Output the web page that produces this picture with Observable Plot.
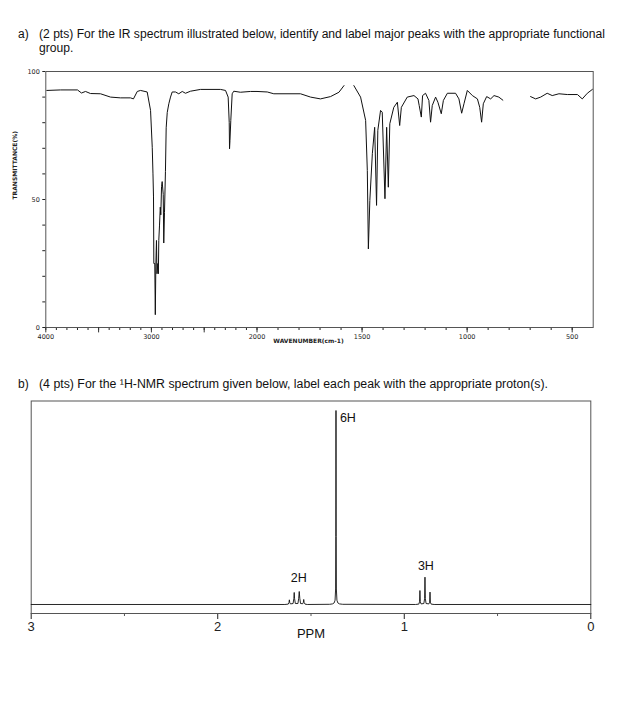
<!DOCTYPE html>
<html><head><meta charset="utf-8">
<script src="https://cdn.jsdelivr.net/npm/d3@7"></script>
<script src="https://cdn.jsdelivr.net/npm/@observablehq/plot@0.6"></script>
<style>
body{margin:0;background:#fff;}
#page{position:relative;width:643px;height:711px;overflow:hidden;font-family:"Liberation Sans",Arial,sans-serif;color:#111;background:#fff;}
.q{position:absolute;font-size:12px;line-height:14px;white-space:nowrap;transform-origin:0 0;}
#ir,#nmr{position:absolute;left:0;}
#ir{top:60px;} #nmr{top:390px;}
</style></head><body>
<div id="page">
<div class="q" style="left:18px;top:27px">a)</div>
<div class="q" id="qa" data-w="566" style="left:39px;top:27px">(2 pts) For the IR spectrum illustrated below, identify and label major peaks with the appropriate functional</div>
<div class="q" id="qa2" style="left:39px;top:41px">group.</div>
<div class="q" style="left:18px;top:377px">b)</div>
<div class="q" id="qb" data-w="509" style="left:39px;top:377px">(4 pts) For the ¹H-NMR spectrum given below, label each peak with the appropriate proton(s).</div>
<div id="ir"></div>
<div id="nmr"></div>
</div>
<script>
// ---------- IR data (wavenumber cm-1, %T); null = gap in the trace ----------
const irWavenumber = [3990,3860,3700,3662,3624,3577,3482,3387,3293,3198,3170,3134,3103,3040,3008,2992,2985,2980,2977,2968,2963,2958,2952,2947,2939,2934,2930,2923,2916,2911,2904,2898,2888,2883,2876,2867,2860,2850,2835,2819,2803,2772,2741,2708,2677,2630,2535,2346,2298,2273,2263,2260,2256,2248,2235,2220,2157,2062,2000,1951,1920,1793,1745,1698,1650,1610,1586,1563,1539,1507,1483,1475,1470,1463,1451,1440,1431,1425,1412,1404,1391,1383,1375,1368,1349,1332,1321,1313,1285,1253,1234,1228,1218,1212,1198,1182,1174,1166,1150,1139,1123,1113,1094,1055,1039,1026,1015,999,975,951,940,931,923,907,888,872,849,830,760,698,674,650,619,595,563,523,475,452,428,404];
const irTransmittance = [92.6,92.8,92.8,91.6,92.2,91.4,91.3,90.0,89.7,89.7,89.3,92.2,92.6,92.0,84.8,70.4,60,51,25,25,5,24,34,21,25,21,34,40,47,44,55,57,52,33,45,61,78,84,87.4,90,92,92,91.3,92.2,91.5,92.3,93,93,92.6,90,80,69.8,73,80.9,91.3,92.3,91.9,92.2,92.2,92,91.3,91.3,90,89.3,90.2,91.9,94.5,null,94.5,90,80.9,61.3,30.7,49.6,67.9,78.2,47.7,77,84.8,84.1,50.3,78.2,54.8,79.6,86,88,78.9,86,90,90.6,89.3,86.7,82.2,90.6,91.5,88.7,80.2,86.7,90,88,83.5,88.7,91.5,91.5,89.3,83.7,87.4,92.6,90.6,89.3,86,80.2,87.4,90.2,89.3,90.6,90,88.8,null,90.2,89.3,90,91.5,90.6,91.3,91,91,89.3,91.5,93];
const irXTickLabels = [4000,3000,2000,1500,1000,500];
const irXMajorTicks = [4000,3500,3000,2500,2000,1500,1000,500];
const irXMinorTicks = [3900,3800,3700,3600,3500,3400,3300,3200,3100,3000,2900,2800,2700,2600,2500,2400,2300,2200,2100,2000,1900,1800,1700,1600,1500,1400,1300,1200,1100,1000,900,800,700,600,500,4000];
const irYTicks = [0,10,20,30,40,50,60,70,80,90,100];
const irYTickLabels = [0,50,100];

// ---------- 1H-NMR data (ppm, relative intensity) ----------
const nmrPPM = [3.00,1.640,1.622,1.618,1.616,1.614,1.610,1.596,1.592,1.590,1.588,1.584,1.570,1.566,1.563,1.560,1.556,1.544,1.541,1.539,1.537,1.532,1.520,1.400,1.385,1.376,1.371,1.368,1.367,1.366,1.365,1.364,1.361,1.356,1.347,1.330,0.940,0.922,0.918,0.916,0.914,0.910,0.895,0.891,0.889,0.887,0.883,0.868,0.864,0.862,0.860,0.856,0.840,0.00];
const nmrIntensity = [0,0,0.002,0.010,0.024,0.010,0.003,0.005,0.030,0.062,0.030,0.005,0.005,0.032,0.067,0.032,0.005,0.004,0.011,0.026,0.011,0.002,0,0.001,0.003,0.008,0.022,0.08,0.35,1.0,0.35,0.08,0.022,0.008,0.003,0.001,0,0.002,0.014,0.072,0.014,0.003,0.005,0.030,0.141,0.030,0.005,0.003,0.012,0.064,0.012,0.002,0,0];
const nmrXTicks = [3,2,1,0];
const nmrXMinorTicks = [2.5,1.5,0.5];
const nmrLabels = ["2H","6H","3H"];
const nmrLabelPPM = [1.566,1.345,0.884];
const nmrLabelIntensity = [0.138,0.959,0.201];

const irData = irWavenumber.map((w,i)=>({w, t: irTransmittance[i]}));
const nmrData = nmrPPM.map((p,i)=>({p, v: nmrIntensity[i]}));
const nmrLabelData = nmrLabels.map((s,i)=>({s, p: nmrLabelPPM[i], v: nmrLabelIntensity[i]}));

const ir = Plot.plot({
  width: 643, height: 295,
  marginLeft: 45.3, marginRight: 50.3, marginTop: 11, marginBottom: 28,
  style: {fontFamily: "DejaVu Sans, sans-serif", fontSize: "6.5px", background: "transparent", color: "#222"},
  x: {type: "linear", domain: [4000, 2000, 400], range: [45.3, 256.5, 592.7],
      ticks: irXMinorTicks, tickSize: 3, tickPadding: 4,
      tickFormat: d => irXTickLabels.includes(d) ? String(d) : "", label: null},
  y: {domain: [0, 100], ticks: irYTicks, tickSize: 3, tickPadding: 3,
      tickFormat: d => irYTickLabels.includes(d) ? String(d) : "", label: null},
  marks: [
    Plot.frame({stroke: "#555"}),
    Plot.ruleX(irXMajorTicks, {x: d => d, y1: 0, y2: -2.1, stroke: "#333"}),
    Plot.line(irData, {x: "w", y: "t", stroke: "#111", strokeWidth: 1}),
    Plot.text(["WAVENUMBER(cm-1)"], {frameAnchor: "bottom", dx: -11, dy: 15, fontSize: 6, fontWeight: "bold", fill: "#222"}),
    Plot.text(["TRANSMITTANCE(%)"], {frameAnchor: "left", dx: -31, rotate: -90, fontSize: 6, fontWeight: "bold", fill: "#222"})
  ]
});
document.getElementById("ir").appendChild(ir);

const nmr = Plot.plot({
  width: 643, height: 270,
  marginLeft: 30.7, marginRight: 52.7, marginTop: 10.5, marginBottom: 47,
  style: {fontFamily: "Liberation Sans, Arial, sans-serif", fontSize: "13px", background: "transparent", color: "#222"},
  x: {domain: [3, 0], ticks: nmrXTicks, tickSize: 6, tickPadding: 2, tickFormat: d => String(d), label: null},
  y: {domain: [-0.0464, 1.049], axis: null},
  marks: [
    Plot.frame({stroke: "#555"}),
    Plot.ruleX(nmrXMinorTicks, {x: d => d, y1: -0.0464, y2: -0.062, stroke: "#555"}),
    Plot.line(nmrData, {x: "p", y: "v", stroke: "#111", strokeWidth: 0.9}),
    Plot.text(nmrLabelData, {filter: d => d.s !== "6H", x: "p", y: "v", text: "s",
      textAnchor: "middle", fontSize: 12.5, fill: "#111"}),
    Plot.text(nmrLabelData, {filter: d => d.s === "6H", x: "p", y: "v", text: "s",
      textAnchor: "start", fontSize: 12.5, fill: "#111"}),
    Plot.text(["PPM"], {frameAnchor: "bottom", dy: 24, fontSize: 13, fill: "#111"})
  ]
});
document.getElementById("nmr").appendChild(nmr);

// fit question text widths
for (const id of ["qa","qb"]) {
  const el = document.getElementById(id);
  const w = el.getBoundingClientRect().width;
  const s = (+el.dataset.w) / w;
  el.style.transform = `scaleX(${s})`;
  if (id === "qa") document.getElementById("qa2").style.transform = `scaleX(${s})`;
}
</script>
</body></html>
